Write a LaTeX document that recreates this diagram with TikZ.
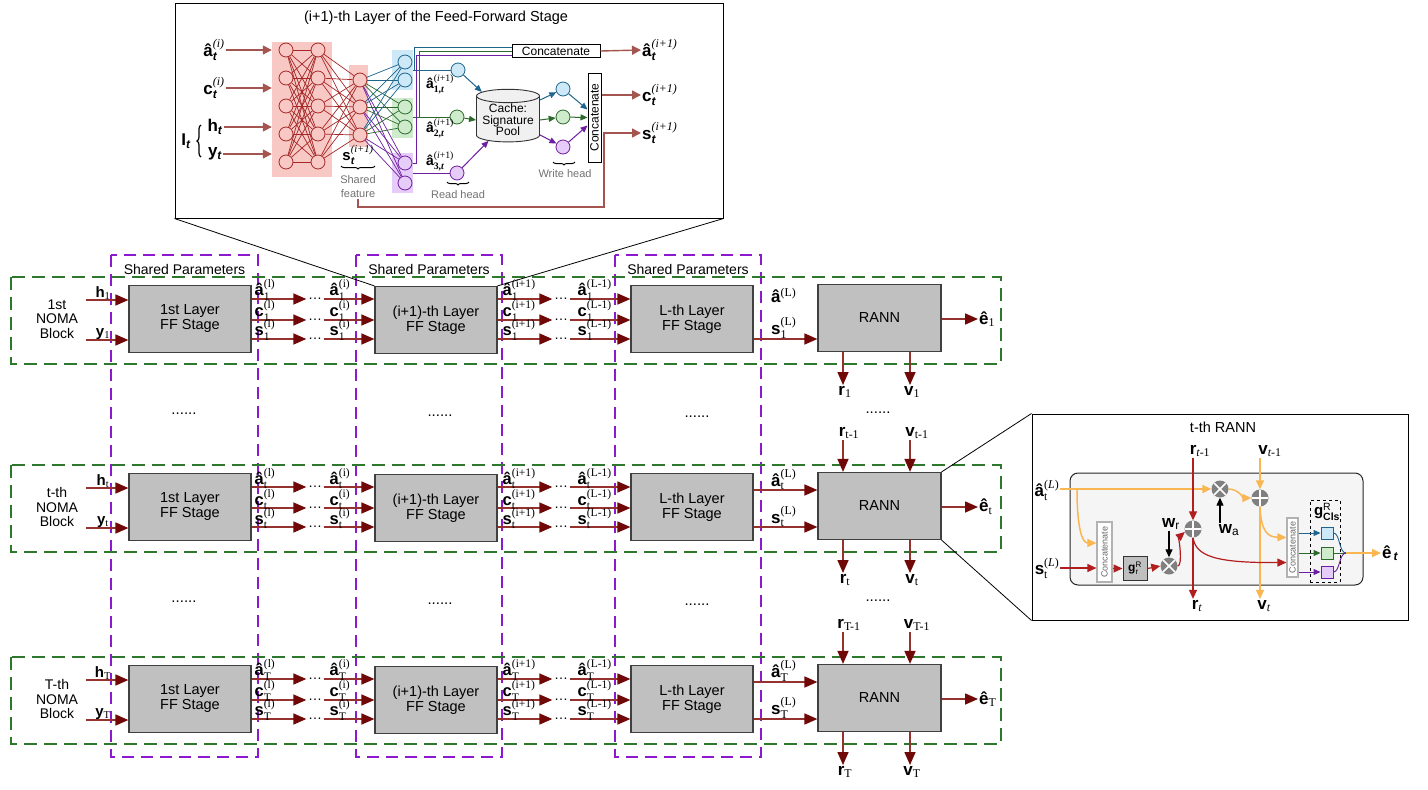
\documentclass[tikz,border=0pt]{standalone}
\usepackage{fontspec}
\usepackage{amsmath}
\setmainfont{Liberation Sans}
\newfontfamily\tms{Liberation Serif}
\usetikzlibrary{positioning,arrows.meta,shapes.geometric,calc,decorations.pathreplacing}

\definecolor{arrline}{RGB}{150,50,45}
\definecolor{arrhead}{RGB}{112,8,8}
\definecolor{rowgreen}{RGB}{45,120,45}
\definecolor{sharedpurple}{RGB}{140,25,205}
\definecolor{boxgray}{RGB}{192,192,192}
\definecolor{inorange}{RGB}{250,182,80}
\definecolor{inred}{RGB}{178,30,30}
\definecolor{brownarr}{RGB}{165,85,80}
\definecolor{pinkbg}{RGB}{248,200,196}
\definecolor{neuronred}{RGB}{165,40,40}
\definecolor{bluebg}{RGB}{205,232,246}
\definecolor{blueln}{RGB}{30,100,140}
\definecolor{greenbg}{RGB}{206,236,204}
\definecolor{greenln}{RGB}{45,105,45}
\definecolor{purplebg}{RGB}{230,204,248}
\definecolor{purpleln}{RGB}{110,30,160}

\newcommand{\fsz}[2]{\fontsize{#1}{#2}\selectfont}
\newcommand{\vlab}[3]{\textbf{#1}$^{\text{\tms\mdseries #3}}_{\text{\tms\mdseries #2}}$}
\newcommand{\vsub}[2]{\textbf{#1}$_{\text{\tms\mdseries #2}}$}
\newcommand{\tlab}[2]{\textbf{#1}$^{\text{\tms\itshape #2}}_{\text{\bfseries\itshape t}}$}
\newcommand{\tsub}[1]{\textbf{#1}$_{\text{\bfseries\itshape t}}$}
\newcommand{\hlab}[1]{\textbf{â}$^{\text{\tms(\itshape i\upshape+1)}}_{\text{\tms\bfseries #1,\itshape t}}$}

\begin{document}
\begin{tikzpicture}[x=1pt, y=-1pt,
    ffbox/.style={rectangle, draw=black!75, line width=1.2pt, fill=boxgray, minimum width=122pt, minimum height=67pt, align=center, font=\fsz{14.5}{15}},
    blocklbl/.style={align=center, font=\fsz{14}{14.5}},
    sharedlbl/.style={font=\fsz{14}{15}},
    titlelbl/.style={font=\fsz{14.5}{15}},
    lbl/.style={font=\fsz{17}{18}, inner sep=1pt},
    chlbl/.style={font=\fsz{16.5}{17}, inner sep=0.5pt, anchor=south west},
    slbl/.style={font=\fsz{15}{16}, inner sep=1pt},
    graylbl/.style={font=\fsz{11}{14}, text=black!55, align=center, inner sep=1pt},
    dotsn/.style={font=\fsz{14}{14}, inner sep=1.5pt},
    vdots/.style={font=\fsz{15}{15}},
    rowframe/.style={draw=rowgreen, line width=1.6pt, dash pattern=on 13pt off 7pt},
    sharedframe/.style={draw=sharedpurple, line width=1.5pt, dash pattern=on 12pt off 7pt},
    insetbox/.style={draw=black, line width=1pt, fill=white},
    arrow/.style={draw=arrline, line width=1.6pt, -{Triangle[length=13pt,width=11pt,fill=arrhead,color=arrhead]}},
    barr/.style={draw=brownarr, line width=1.4pt, -{Triangle[length=9pt,width=9pt]}},
    oarr/.style={draw=inorange, line width=1.5pt, -{Triangle[length=9pt,width=8pt]}},
    rarr/.style={draw=inred, line width=1.2pt, -{Triangle[length=9pt,width=8pt]}},
    karr/.style={draw=black, line width=1.2pt, -{Triangle[length=8pt,width=7pt]}},
    carr/.style={line width=1pt, -{Triangle[length=7pt,width=6pt]}},
    callout/.style={draw=black, line width=0.8pt},
    nline/.style={draw=neuronred, line width=0.7pt},
    neuron/.style={circle, draw=neuronred, fill=pinkbg, line width=0.8pt, minimum size=14pt, inner sep=0pt},
    grp/.style={minimum width=21pt, minimum height=40pt, inner sep=0pt},
    catbox/.style={draw=black!30, line width=1.2pt, fill=white, inner sep=0pt, font=\fsz{9}{9}, text=black!60},
    sq/.style={rectangle, line width=0.9pt, minimum size=12pt, inner sep=0pt},
    opx/.style={circle, fill=black!50, minimum size=17pt, inner sep=0pt, path picture={
        \draw[white, line width=1.5pt] (path picture bounding box.north west) -- (path picture bounding box.south east)
          (path picture bounding box.north east) -- (path picture bounding box.south west);}},
    opp/.style={circle, fill=black!50, minimum size=17pt, inner sep=0pt, path picture={
        \draw[white, line width=1.5pt] (path picture bounding box.north) -- (path picture bounding box.south)
          (path picture bounding box.west) -- (path picture bounding box.east);}}
]
\useasboundingbox (0,0) rectangle (1428,790);

% shared parameter columns
\foreach \c/\xl/\xr in {1/111/258, 2/356/502, 3/615/761}{
  \draw[sharedframe] (\xl,255) rectangle (\xr,757);
  \node[sharedlbl] (shared-\c) at ({(\xl+\xr)/2},269) {Shared Parameters};
}

% NOMA blocks
\foreach \r/\yc/\sb/\nm/\pv in {1/319/1/1st/-, 2/507/t/t-th/t-1, 3/699/T/T-th/T-1}{
  \draw[rowframe] (11,\yc-42) rectangle (1001,\yc+45);
  \node[blocklbl] (noma-\r) at (57,\yc) {\nm\\NOMA\\Block};
  \node[ffbox] (ff1-\r) at (190,\yc) {1st Layer\\FF Stage};
  \node[ffbox] (ffi-\r) at (436,\yc+1) {(i+1)-th Layer\\FF Stage};
  \node[ffbox] (ffL-\r) at (692,\yc) {L-th Layer\\FF Stage};
  \node[ffbox, minimum width=123pt] (rann-\r) at (879.5,\yc-1) {RANN};
  % inputs
  \coordinate (hs-\r) at (86,\yc-19);
  \coordinate (ys-\r) at (86,\yc+21);
  \node[slbl, anchor=south] (hl-\r) at (103,\yc-18) {\vsub{h}{\sb}};
  \node[slbl, anchor=south] (yl-\r) at (103,\yc+22) {\vsub{y}{\sb}};
  \draw[arrow] (hs-\r) -- (hs-\r -| ff1-\r.west);
  \draw[arrow] (ys-\r) -- (ys-\r -| ff1-\r.west);
  % layer chain
  \foreach \k/\dy/\ch in {1/-20/â, 2/1/c, 3/20/s}{
    \node[dotsn] (da\k-\r) at (315,\yc+\dy) {\ldots};
    \node[dotsn] (db\k-\r) at (561,\yc+\dy) {\ldots};
    \draw[arrow] (ff1-\r.east |- da\k-\r) -- (da\k-\r.west);
    \draw[arrow] (da\k-\r.east) -- (ffi-\r.west |- da\k-\r);
    \draw[arrow] (ffi-\r.east |- db\k-\r) -- (db\k-\r.west);
    \draw[arrow] (db\k-\r.east) -- (ffL-\r.west |- db\k-\r);
    \node[chlbl] (lp\k-\r) at (254,\yc+\dy+2) {\vlab{\ch}{\sb}{(l)}};
    \node[chlbl] (lq\k-\r) at (329,\yc+\dy+2) {\vlab{\ch}{\sb}{(i)}};
    \node[chlbl] (lr\k-\r) at (502,\yc+\dy+2) {\vlab{\ch}{\sb}{(i+1)}};
    \node[chlbl] (ls\k-\r) at (577,\yc+\dy+2) {\vlab{\ch}{\sb}{(L-1)}};
  }
  % into RANN
  \ifnum\r=1
    \node[lbl, anchor=south west] (aL-\r) at (770,\yc-15) {\textbf{â}$^{\text{\tms (L)}}$};
  \else
    \draw[arrow] ([yshift=17pt]ffL-\r.east) -- ([yshift=17pt]ffL-\r.east -| rann-\r.west);
    \node[lbl, anchor=south west] (aL-\r) at (770,\yc-16) {\vlab{â}{\sb}{(L)}};
    \node[lbl, anchor=south] (ri-\r) at (849,\yc-67) {\vsub{r}{\pv}};
    \node[lbl, anchor=south] (vi-\r) at (917,\yc-67) {\vsub{v}{\pv}};
    \draw[arrow] ([xshift=-6pt]ri-\r.south) -- ([xshift=-6pt]ri-\r.south |- rann-\r.north);
    \draw[arrow] ([xshift=-7pt]vi-\r.south) -- ([xshift=-7pt]vi-\r.south |- rann-\r.north);
  \fi
  \draw[arrow] ([yshift=-20pt]ffL-\r.east) -- ([yshift=-20pt]ffL-\r.east -| rann-\r.west);
  \node[lbl, anchor=south west] (sL-\r) at (770,\yc+21) {\vlab{s}{\sb}{(L)}};
  % RANN outputs
  \node[lbl, anchor=west] (e-\r) at (978,\yc) {\vsub{ê}{\sb}};
  \draw[arrow] (rann-\r.east |- e-\r.west) -- (e-\r.west);
  \node[lbl, anchor=north] (ro-\r) at (845,\yc+66) {\vsub{r}{\sb}};
  \node[lbl, anchor=north] (vo-\r) at (912,\yc+66) {\vsub{v}{\sb}};
  \draw[arrow] ([xshift=-2pt]rann-\r.south -| ro-\r.north) -- ([xshift=-2pt]ro-\r.north);
  \draw[arrow] ([xshift=-2pt]rann-\r.south -| vo-\r.north) -- ([xshift=-2pt]vo-\r.north);
  \ifnum\r<3
    \node[vdots] (gapa-\r) at (184,\yc+95) {......};
    \node[vdots] (gapb-\r) at (440,\yc+97) {......};
    \node[vdots] (gapc-\r) at (697,\yc+98) {......};
    \node[vdots] (gapd-\r) at (878,\yc+94) {......};
  \fi
}

% ---- inset: (i+1)-th layer of the feed-forward stage
\node[insetbox, minimum width=548pt, minimum height=215pt] (ffinset) at (449,110.5) {};
\node[titlelbl] (fftitle) at (436,18) {(i+1)-th Layer of the Feed-Forward Stage};
\node[lbl] (ia) at (214,50) {\tlab{â}{(i)}};
\node[lbl] (ic) at (214,88) {\tlab{c}{(i)}};
\node[lbl] (ih) at (215,127) {\tsub{h}};
\node[lbl] (iy) at (215,154) {\tsub{y}};
\node[lbl] (iI) at (186,141) {\tsub{I}};
\draw[line width=1.2pt, decorate, decoration={brace, amplitude=4pt}] (201,157) -- (201,125);
\node[fill=pinkbg, minimum width=60pt, minimum height=135pt, inner sep=0pt] (pink1) at (302,109.5) {};
\node[fill=pinkbg, minimum width=19pt, minimum height=82pt, inner sep=0pt] (pink2) at (358.5,106) {};
\foreach \n in {ia, ic, ih, iy}
  \draw[barr] (\n.east) -- (\n.east -| pink1.west);
\foreach \i/\y in {1/50, 2/78, 3/106, 4/134, 5/162}{
  \node[neuron] (na\i) at (286,\y) {};
  \node[neuron] (nb\i) at (318,\y) {};
}
\foreach \i/\y in {1/80, 2/107, 3/135}
  \node[neuron] (nc\i) at (360,\y) {};
\foreach \i in {1,...,5}{
  \foreach \j in {1,...,5} \draw[nline] (na\i) -- (nb\j);
  \foreach \j in {1,...,3} \draw[nline] (nb\i) -- (nc\j);
}
% task groups
\node[grp, fill=bluebg] (gbl) at (402.5,70) {};
\node[grp, fill=greenbg] (ggr) at (402.5,117.5) {};
\node[grp, fill=purplebg] (gpu) at (402.5,173) {};
\node[neuron, draw=blueln, fill=bluebg] (hb1) at (405,62) {};
\node[neuron, draw=blueln, fill=bluebg] (hb2) at (405,80) {};
\node[neuron, draw=greenln, fill=greenbg] (hg1) at (405,107) {};
\node[neuron, draw=greenln, fill=greenbg] (hg2) at (405,127) {};
\node[neuron, draw=purpleln, fill=purplebg] (hp1) at (405,163) {};
\node[neuron, draw=purpleln, fill=purplebg] (hp2) at (405,183) {};
\foreach \i in {1,2,3}{
  \foreach \j in {1,2}{
    \draw[blueln, line width=0.7pt] (nc\i) -- (hb\j);
    \draw[greenln, line width=0.7pt] (nc\i) -- (hg\j);
    \draw[purpleln, line width=0.7pt] (nc\i) -- (hp\j);
  }
}
\node[lbl, font=\fsz{15}{16}] (sfl) at (358,155) {\tlab{s}{(i+1)}};
\draw[line width=1pt, decorate, decoration={brace, mirror, amplitude=3pt}] (341,166) -- (375,166);
\node[graylbl] (shfeat) at (358,187) {Shared\\feature};
% read heads, cache, write heads
\node[neuron, draw=blueln, fill=bluebg] (rhb) at (458,70) {};
\node[neuron, draw=greenln, fill=greenbg] (rhg) at (457,117) {};
\node[neuron, draw=purpleln, fill=purplebg] (rhp) at (457,173) {};
\node[lbl, font=\fsz{14}{15}] (rl1) at (440,84) {\hlab{1}};
\node[lbl, font=\fsz{14}{15}] (rl2) at (440,128) {\hlab{2}};
\node[lbl, font=\fsz{14}{15}] (rl3) at (440,161) {\hlab{3}};
\node[draw, line width=1pt, fill=white, minimum width=88pt, minimum height=13pt, inner sep=0pt, font=\fsz{12}{12}] (cath) at (556,51) {Concatenate};
\draw[blueln, line width=0.9pt] (gbl.east |- rhb) -- (rhb);
\draw[greenln, line width=0.9pt] (ggr.east |- rhg) -- (rhg);
\draw[purpleln, line width=0.9pt] (gpu.east |- rhp) -- (rhp);
\draw[blueln, line width=0.9pt] (gbl.east |- rhb) -| ($(cath.west)+(-97,-4)$) -- ($(cath.west)+(0,-4)$);
\draw[greenln, line width=0.9pt] (ggr.east |- rhg) -| ($(cath.west)+(-92,0)$) -- (cath.west);
\draw[purpleln, line width=0.9pt] (gpu.east |- hp1) -| ($(cath.west)+(-95,4)$) -- ($(cath.west)+(0,4)$);
\node[cylinder, shape border rotate=90, draw=black!80, line width=0.9pt, fill=gray!12, aspect=0.25, minimum width=63pt, minimum height=48pt, inner sep=1pt, align=center, font=\fsz{12}{11.5}] (cache) at (508,120) {Cache:\\Signature\\Pool};
\node[neuron, draw=blueln, fill=bluebg] (wcb) at (563,89) {};
\node[neuron, draw=greenln, fill=greenbg] (wcg) at (563,117) {};
\node[neuron, draw=purpleln, fill=purplebg] (wcp) at (563,147) {};
\node[draw, line width=1pt, fill=white, minimum width=13pt, minimum height=89pt, inner sep=0pt, font=\fsz{12}{12}] (catv) at (594.5,117.5) {\rotatebox{90}{Concatenate}};
\draw[carr, blueln] (rhb) -- (cache.133);
\draw[carr, greenln] (rhg) -- (cache.west);
\draw[carr, purpleln] (rhp) -- (cache.227);
\draw[carr, blueln] (cache.32) -- (wcb);
\draw[carr, greenln] (cache.east) -- (wcg);
\draw[carr, purpleln] (cache.335) -- (wcp);
\draw[carr, blueln] (wcb) -- ([yshift=8pt]catv.west);
\draw[carr, greenln] (wcg) -- (catv.west);
\draw[carr, purpleln] (wcp) -- ([yshift=-8pt]catv.west);
\draw[line width=1pt, decorate, decoration={brace, mirror, amplitude=3pt}] (447,182) -- (469,182);
\node[graylbl] (readl) at (458,195) {Read head};
\draw[line width=1pt, decorate, decoration={brace, mirror, amplitude=3pt}] (553,162) -- (575,162);
\node[graylbl] (writel) at (565,174) {Write head};
% outputs
\node[lbl, anchor=west] (oa) at (641,50) {\tlab{â}{(i+1)}};
\node[lbl, anchor=west] (oc) at (641,95) {\tlab{c}{(i+1)}};
\node[lbl, anchor=west] (os) at (641,133) {\tlab{s}{(i+1)}};
\draw[barr] (cath.east) -- (oa.west);
\draw[barr] (catv.east |- oc.west) -- (oc.west);
\coordinate (sturn) at (604,207);
\draw[barr] (shfeat.south) |- (sturn) |- (os.west);

% ---- inset: t-th RANN
\node[insetbox, minimum width=376pt, minimum height=206pt] (rinset) at (1220,517) {};
\node[titlelbl] (rtitle) at (1223,427) {t-th RANN};
\node[draw=black!85, line width=1pt, fill=black!4, rounded corners=8pt, minimum width=293pt, minimum height=112pt] (rcore) at (1216.5,529) {};
\node[lbl] (ra) at (1047,490) {\vlab{â}{t}{(\textit{L})}};
\node[lbl] (rs) at (1047,568) {\vlab{s}{t}{(\textit{L})}};
\node[catbox, minimum width=15pt, minimum height=60pt] (rcat1) at (1104.5,552) {\rotatebox{90}{Concatenate}};
\node[draw=black!80, line width=1pt, fill=black!25, minimum width=24pt, minimum height=24pt, inner sep=0pt, font=\fsz{12}{12}] (rg) at (1135,568.5) {\textbf{g}$^{\text{R}}_{\text{r}}$};
\node[opx] (rmr) at (1169,566) {};
\node[opp] (rar) at (1193,529) {};
\node[opx] (rma) at (1220,489) {};
\node[opp] (raa) at (1260,498) {};
\node[lbl] (rwr) at (1171,524) {\textbf{w}$_{\text{r}}$};
\node[lbl] (rwa) at (1229,530) {\textbf{w}$_{\text{a}}$};
\node[lbl] (rrp) at (1200,451) {\vsub{r}{\itshape t\upshape-1}};
\node[lbl] (rvp) at (1270,451) {\vsub{v}{\itshape t\upshape-1}};
\node[lbl] (rrn) at (1197,606) {\vsub{r}{\itshape t}};
\node[lbl] (rvn) at (1264,606) {\vsub{v}{\itshape t}};
\node[catbox, minimum width=11pt, minimum height=59pt] (rcat2) at (1292.5,547.5) {\rotatebox{90}{Concatenate}};
\node[draw, dashed, line width=0.9pt, minimum width=30pt, minimum height=82pt] (rcls) at (1325,541) {};
\node[lbl, font=\fsz{15}{15}] (rclsl) at (1327,512) {\textbf{g}$^{\text{R}}_{\text{\bfseries Cls}}$};
\node[sq, draw=blueln, fill=bluebg] (rsq1) at (1327,533) {};
\node[sq, draw=greenln, fill=greenbg] (rsq2) at (1327,553) {};
\node[sq, draw=purpleln, fill=purplebg] (rsq3) at (1327,572) {};
\coordinate (rmerge) at (1346,553);
\node[lbl, anchor=west] (rout) at (1381,553) {\textbf{ê}$_{\,\text{\bfseries\itshape t}}$};
% orange paths
\coordinate (rbr) at (1077,489);
\draw[oarr] (ra.east |- rma) -- (rma.west);
\draw[oarr] (rbr) .. controls (1077,528) and (1082,543) .. ($(rcat1.west)+(0,-9)$);
\draw[oarr] (rma.east) .. controls (1238,489) and (1244,498) .. (raa.west);
\draw[oarr] (rvp.south -| raa.north) -- (raa.north);
\draw[oarr] (raa.south) -- (raa.south |- rvn.north);
\draw[oarr] (raa.south) .. controls (1261,532) and (1268,537) .. ($(rcat2.west)+(0,-10)$);
% red paths
\draw[rarr] (rs.east) -- (rs.east -| rcat1.west);
\draw[rarr] (rcat1.east |- rg) -- (rg.west);
\draw[rarr] (rg.east) -- (rmr.west);
\draw[rarr] (rmr.east) .. controls (1183,566) and (1179,537) .. (rar.200);
\draw[rarr] (rrp.south -| rar.north) -- (rar.north);
\draw[rarr] (rar.south) -- (rar.south |- rrn.north);
\draw[rarr] (rar.south) .. controls (1196,556) and (1215,563) .. ($(rcat2.west)+(0,15)$);
% weights
\draw[karr] (rmr.north |- rwr.south) -- (rmr.north);
\draw[karr] (rma.south |- rwa.north) -- (rma.south);
% classifier heads
\draw[carr, blueln] (rcat2.east |- rsq1) -- (rsq1.west);
\draw[carr, greenln] (rcat2.east |- rsq2) -- (rsq2.west);
\draw[carr, purpleln] (rcat2.east |- rsq3) -- (rsq3.west);
\draw[blueln, line width=0.9pt] (rsq1.east) .. controls (1340,533) and (1339,553) .. (rmerge);
\draw[greenln, line width=0.9pt] (rsq2.east) -- (rmerge);
\draw[purpleln, line width=0.9pt] (rsq3.east) .. controls (1340,572) and (1339,553) .. (rmerge);
\draw[oarr] (rmerge) -- (rout.west);

% callouts
\draw[callout] (ffinset.south west) -- (ffi-1.north west);
\draw[callout] (ffinset.south east) -- (ffi-1.north east);
\draw[callout] (rann-2.north east) -- (rinset.north west);
\draw[callout] (rann-2.south east) -- (rinset.south west);
\end{tikzpicture}
\end{document}
